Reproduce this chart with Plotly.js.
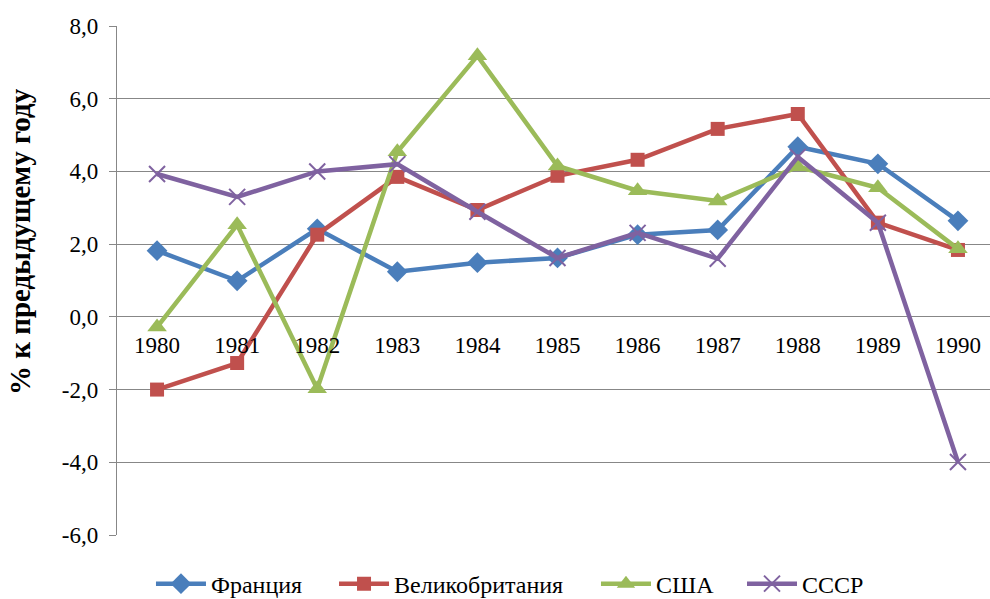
<!DOCTYPE html>
<html><head><meta charset="utf-8">
<script src="https://cdn.plot.ly/plotly-3.0.1.min.js"></script>
<style>html,body{margin:0;padding:0;background:#fff}#chart{width:990px;height:599px}</style>
</head><body><div id="chart"></div>
<script>
const years = ['1980','1981','1982','1983','1984','1985','1986','1987','1988','1989','1990'];
const france = [1.82, 0.99, 2.42, 1.24, 1.49, 1.62, 2.26, 2.39, 4.68, 4.21, 2.64];
const uk     = [-2.0, -1.27, 2.26, 3.85, 2.94, 3.88, 4.32, 5.17, 5.58, 2.59, 1.84];
const usa    = [-0.28, 2.53, -1.98, 4.54, 7.18, 4.15, 3.47, 3.19, 4.13, 3.55, 1.87];
const ussr   = [3.93, 3.3, 4.0, 4.2, 2.89, 1.62, 2.31, 1.6, 4.4, 2.59, -3.99];
const names = ['Франция','Великобритания','США','СССР'];
const yTicks = [-6, -4, -2, 0, 2, 4, 6, 8];
const yTickText = ['-6,0', '-4,0', '-2,0', '0,0', '2,0', '4,0', '6,0', '8,0'];
const yTitle = '% к предыдущему году';

const FAM = 'Liberation Serif, Times New Roman, serif';

const mk = (name, y, color, symbol, size, legend, extra) => Object.assign({
  type: 'scatter', mode: 'lines+markers', name: name, x: years, y: y,
  legend: legend,
  line: {color: color, width: 4.5},
  marker: {symbol: symbol, size: size, color: color}
}, extra || {});

const data = [
  mk(names[0], france, '#4A7EBB', 'diamond', 16, 'legend'),
  mk(names[1], uk, '#C0504D', 'square', 14, 'legend2'),
  mk(names[2], usa, '#9BBB59', 'triangle-up', 17, 'legend3'),
  mk(names[3], ussr, '#7F62A0', 'x-thin', 16, 'legend4', {marker: {symbol: 'x-thin', size: 16, color: '#7F62A0', line: {color: '#7F62A0', width: 2}}})
];

const leg = (x) => ({orientation: 'h', xref: 'container', x: x, xanchor: 'left',
  yref: 'container', y: 0.025, yanchor: 'middle', bgcolor: 'rgba(0,0,0,0)',
  font: {family: FAM, size: 24, color: '#000'}, itemwidth: 50});

const layout = {
  width: 990, height: 599,
  margin: {l: 117, r: 0, t: 26, b: 64},
  paper_bgcolor: '#fff', plot_bgcolor: '#fff',
  font: {family: FAM, size: 23, color: '#000'},
  showlegend: true,
  legend: leg(0.1525), legend2: leg(0.3374), legend3: leg(0.602), legend4: leg(0.7495),
  xaxis: {
    type: 'category', range: [-0.5, 10.4], anchor: 'free', position: 6/14,
    showgrid: false, zeroline: false, showline: false,
    ticks: 'outside', ticklen: 8, tickcolor: 'rgba(0,0,0,0)',
    tickfont: {family: FAM, size: 23, color: '#000'}
  },
  yaxis: {
    range: [-6, 8], tickvals: yTicks, ticktext: yTickText,
    showgrid: true, gridcolor: '#878787', gridwidth: 1.3,
    zeroline: false, showline: true, linecolor: '#878787', linewidth: 1.3,
    ticks: 'outside', ticklen: 7, tickcolor: '#878787', tickwidth: 1.3,
    ticklabelstandoff: 6,
    tickfont: {family: FAM, size: 23, color: '#000'}
  },
  annotations: [{
    text: yTitle, textangle: -90, showarrow: false,
    xref: 'paper', x: (20 - 117) / 873, xanchor: 'center',
    yref: 'paper', y: (535 - 242) / 509, yanchor: 'middle',
    font: {family: FAM, size: 29, weight: 'bold', color: '#000'}
  }]
};
Plotly.newPlot('chart', data, layout, {displayModeBar: false});
</script></body></html>
